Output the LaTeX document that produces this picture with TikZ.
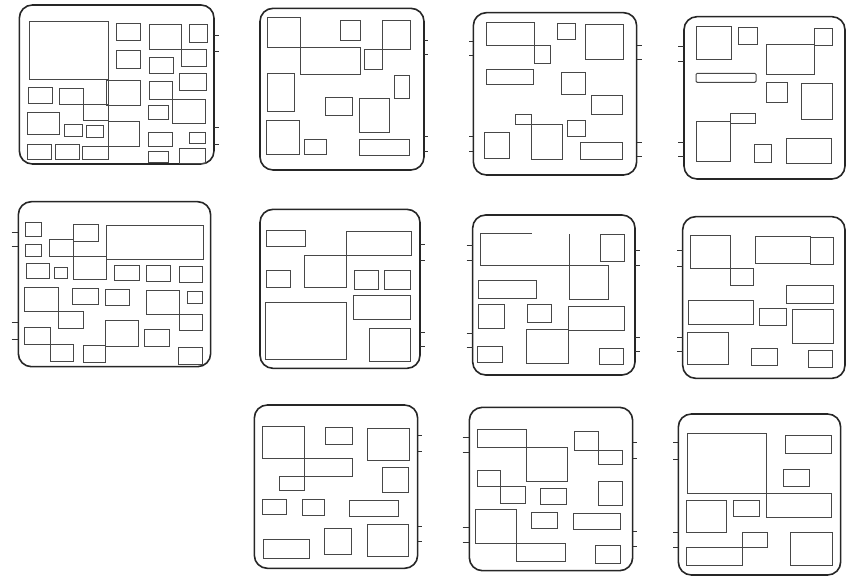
\documentclass[tikz,border=0pt]{standalone}
\begin{document}
\begin{tikzpicture}[x=1pt,y=-1pt,
  panel/.style={line width=1.6pt,draw=black!85,rounded corners=13pt},
  box/.style={line width=1pt,draw=black!72},
  pin/.style={line width=0.9pt,draw=black!80}]
\useasboundingbox (0,0) rectangle (866,576);

% ---------- Panel 1 ----------
\begin{scope}[shift={(10,0)},scale=0.3333]
\draw[panel] (28,15) rectangle (612,492);
\foreach \y in {107,155,383,432} \draw[pin] (612,\y) -- (628,\y);
\draw[box] (58,65) rectangle (296,240);
\draw[box] (296,240) -- (296,480);
\draw[box] (320,70) rectangle (393,122);
\draw[box] (320,152) rectangle (393,205);
\draw[box] (418,73) rectangle (515,150);
\draw[box] (515,150) rectangle (590,200);
\draw[box] (538,75) rectangle (592,128);
\draw[box] (418,172) rectangle (492,220);
\draw[box] (510,220) rectangle (590,273);
\draw[box] (418,245) rectangle (488,300);
\draw[box] (488,300) rectangle (588,370);
\draw[box] (415,318) rectangle (475,360);
\draw[box] (415,398) rectangle (488,440);
\draw[box] (538,398) rectangle (588,432);
\draw[box] (415,455) rectangle (475,488);
\draw[box] (510,445) rectangle (588,490);
\draw[box] (55,262) rectangle (127,310);
\draw[box] (148,265) rectangle (220,315);
\draw[box] (52,338) rectangle (150,405);
\draw[box] (165,375) rectangle (218,410);
\draw[box] (230,377) rectangle (280,412);
\draw[box] (52,433) rectangle (125,478);
\draw[box] (138,435) rectangle (208,478);
\draw[box] (218,440) rectangle (296,480);
\draw[box] (290,243) rectangle (393,318);
\draw[box] (296,365) rectangle (390,440);
\draw[box] (220,315) rectangle (296,362);
\end{scope}

% ---------- Panel 2 ----------
\begin{scope}[shift={(250,0)},scale=0.3333]
\draw[panel] (30,25) rectangle (522,510);
\foreach \y in {122,163,410,455} \draw[pin] (522,\y) -- (535,\y);
\draw[box] (52,52) rectangle (150,142);
\draw[box] (150,142) rectangle (332,225);
\draw[box] (272,60) rectangle (333,122);
\draw[box] (398,62) rectangle (482,150);
\draw[box] (345,150) rectangle (398,210);
\draw[box] (52,220) rectangle (133,335);
\draw[box] (435,228) rectangle (478,297);
\draw[box] (228,293) rectangle (307,347);
\draw[box] (328,295) rectangle (418,397);
\draw[box] (50,362) rectangle (148,465);
\draw[box] (165,418) rectangle (230,465);
\draw[box] (328,420) rectangle (478,468);
\end{scope}

% ---------- Panel 3 ----------
\begin{scope}[shift={(460,0)},scale=0.3333]
\draw[panel] (40,38) rectangle (530,525);
\foreach \y in {125,165,410,455} \draw[pin] (28,\y) -- (40,\y);
\foreach \y in {135,177,426,468} \draw[pin] (530,\y) -- (545,\y);
\draw[box] (80,68) rectangle (222,138);
\draw[box] (222,138) rectangle (272,190);
\draw[box] (293,72) rectangle (347,118);
\draw[box] (378,75) rectangle (490,178);
\draw[box] (78,210) rectangle (220,255);
\draw[box] (305,217) rectangle (378,283);
\draw[box] (395,287) rectangle (488,345);
\draw[box] (165,345) rectangle (215,375);
\draw[box] (215,375) rectangle (307,478);
\draw[box] (322,362) rectangle (378,410);
\draw[box] (72,397) rectangle (148,475);
\draw[box] (362,428) rectangle (487,478);
\end{scope}

% ---------- Panel 4 ----------
\begin{scope}[shift={(670,5)},scale=0.3333]
\draw[panel] (42,35) rectangle (525,522);
\foreach \y in {125,168,412,455} \draw[pin] (25,\y) -- (42,\y);
\draw[box] (80,65) rectangle (185,165);
\draw[box] (205,68) rectangle (262,120);
\draw[box] (435,70) rectangle (488,122);
\draw[box] (288,120) rectangle (435,210);
\draw[box,rounded corners=1.2pt] (78,205) rectangle (258,232);
\draw[box] (288,232) rectangle (352,292);
\draw[box] (395,235) rectangle (488,345);
\draw[box] (182,325) rectangle (257,355);
\draw[box] (78,350) rectangle (182,470);
\draw[box] (253,420) rectangle (305,472);
\draw[box] (348,400) rectangle (485,475);
\end{scope}

% ---------- Panel 5 ----------
\begin{scope}[shift={(0,195)},scale=0.3333]
\draw[panel] (55,20) rectangle (632,515);
\foreach \y in {112,155,382,432} \draw[pin] (35,\y) -- (55,\y);
\draw[box] (78,82) rectangle (125,125);
\draw[box] (78,148) rectangle (125,183);
\draw[box] (222,88) rectangle (297,138);
\draw[box] (150,132) rectangle (222,185);
\draw[box] (220,185) rectangle (320,255);
\draw[box] (320,92) rectangle (612,193);
\draw[box] (80,205) rectangle (150,250);
\draw[box] (165,218) rectangle (202,250);
\draw[box] (343,212) rectangle (418,258);
\draw[box] (440,213) rectangle (512,260);
\draw[box] (540,215) rectangle (608,262);
\draw[box] (75,278) rectangle (175,350);
\draw[box] (175,350) rectangle (250,400);
\draw[box] (218,280) rectangle (295,330);
\draw[box] (318,285) rectangle (390,332);
\draw[box] (440,287) rectangle (540,358);
\draw[box] (540,358) rectangle (608,408);
\draw[box] (562,290) rectangle (608,325);
\draw[box] (75,398) rectangle (152,448);
\draw[box] (152,448) rectangle (220,500);
\draw[box] (318,378) rectangle (415,455);
\draw[box] (250,452) rectangle (318,502);
\draw[box] (435,405) rectangle (510,455);
\draw[box] (535,458) rectangle (608,508);
\end{scope}

% ---------- Panel 6 ----------
\begin{scope}[shift={(250,200)},scale=0.3333]
\draw[panel] (30,28) rectangle (510,505);
\foreach \y in {132,180,398,438} \draw[pin] (510,\y) -- (525,\y);
\draw[box] (48,92) rectangle (168,140);
\draw[box] (290,95) rectangle (485,167);
\draw[box] (165,165) rectangle (290,263);
\draw[box] (48,212) rectangle (120,262);
\draw[box] (313,212) rectangle (387,268);
\draw[box] (405,212) rectangle (483,268);
\draw[box] (312,288) rectangle (483,358);
\draw[box] (45,307) rectangle (290,478);
\draw[box] (360,385) rectangle (483,485);
\end{scope}

% ---------- Panel 7 ----------
\begin{scope}[shift={(460,205)},scale=0.3333]
\draw[panel] (38,30) rectangle (525,510);
\foreach \y in {122,165,385,428} \draw[pin] (20,\y) -- (38,\y);
\foreach \y in {135,180,398,440} \draw[pin] (525,\y) -- (540,\y);
\draw[box] (215,85) -- (60,85) -- (60,182) -- (328,182);
\draw[box] (328,88) -- (328,182);
\draw[box] (328,182) rectangle (445,285);
\draw[box] (422,88) rectangle (495,170);
\draw[box] (55,228) rectangle (228,280);
\draw[box] (55,300) rectangle (132,370);
\draw[box] (202,300) rectangle (275,352);
\draw[box] (325,305) rectangle (493,378);
\draw[box] (200,375) rectangle (325,475);
\draw[box] (52,425) rectangle (128,472);
\draw[box] (418,432) rectangle (490,478);
\end{scope}

% ---------- Panel 8 ----------
\begin{scope}[shift={(670,205)},scale=0.3333]
\draw[panel] (38,35) rectangle (525,520);
\foreach \y in {135,183,398,440} \draw[pin] (22,\y) -- (38,\y);
\draw[box] (60,90) rectangle (180,190);
\draw[box] (180,190) rectangle (250,242);
\draw[box] (255,95) rectangle (422,174);
\draw[box] (422,97) rectangle (492,177);
\draw[box] (348,243) rectangle (490,297);
\draw[box] (55,288) rectangle (250,360);
\draw[box] (268,310) rectangle (348,362);
\draw[box] (368,315) rectangle (490,415);
\draw[box] (52,382) rectangle (175,480);
\draw[box] (245,432) rectangle (322,483);
\draw[box] (415,437) rectangle (487,488);
\end{scope}

% ---------- Panel 9 ----------
\begin{scope}[shift={(245,400)},scale=0.3333]
\draw[panel] (28,15) rectangle (518,505);
\foreach \y in {105,155,378,425} \draw[pin] (518,\y) -- (530,\y);
\draw[box] (52,78) rectangle (178,176);
\draw[box] (178,176) rectangle (322,228);
\draw[box] (102,228) rectangle (178,272);
\draw[box] (242,82) rectangle (322,132);
\draw[box] (368,85) rectangle (495,182);
\draw[box] (412,202) rectangle (492,278);
\draw[box] (52,298) rectangle (125,345);
\draw[box] (172,298) rectangle (240,347);
\draw[box] (315,302) rectangle (462,350);
\draw[box] (238,385) rectangle (320,465);
\draw[box] (368,375) rectangle (492,470);
\draw[box] (55,418) rectangle (195,475);
\end{scope}

% ---------- Panel 10 ----------
\begin{scope}[shift={(460,400)},scale=0.3333]
\draw[panel] (28,22) rectangle (518,512);
\foreach \y in {112,158,382,428} \draw[pin] (8,\y) -- (28,\y);
\foreach \y in {128,175,395,440} \draw[pin] (518,\y) -- (530,\y);
\draw[box] (52,88) rectangle (198,143);
\draw[box] (198,143) rectangle (322,243);
\draw[box] (345,95) rectangle (415,150);
\draw[box] (415,150) rectangle (488,193);
\draw[box] (52,210) rectangle (122,260);
\draw[box] (122,260) rectangle (195,310);
\draw[box] (240,265) rectangle (320,313);
\draw[box] (415,245) rectangle (487,318);
\draw[box] (45,330) rectangle (168,430);
\draw[box] (168,430) rectangle (318,485);
\draw[box] (215,338) rectangle (293,385);
\draw[box] (340,340) rectangle (482,390);
\draw[box] (408,437) rectangle (482,490);
\end{scope}

% ---------- Panel 11 ----------
\begin{scope}[shift={(670,400)},scale=0.3333]
\draw[panel] (25,42) rectangle (512,525);
\foreach \y in {128,178,398,443} \draw[pin] (10,\y) -- (25,\y);
\draw[box] (52,100) rectangle (290,280);
\draw[box] (290,280) rectangle (485,352);
\draw[box] (345,105) rectangle (485,160);
\draw[box] (340,208) rectangle (418,258);
\draw[box] (50,300) rectangle (168,398);
\draw[box] (190,302) rectangle (268,350);
\draw[box] (218,398) rectangle (292,442);
\draw[box] (50,442) rectangle (218,497);
\draw[box] (362,398) rectangle (487,498);
\end{scope}
\end{tikzpicture}
\end{document}
